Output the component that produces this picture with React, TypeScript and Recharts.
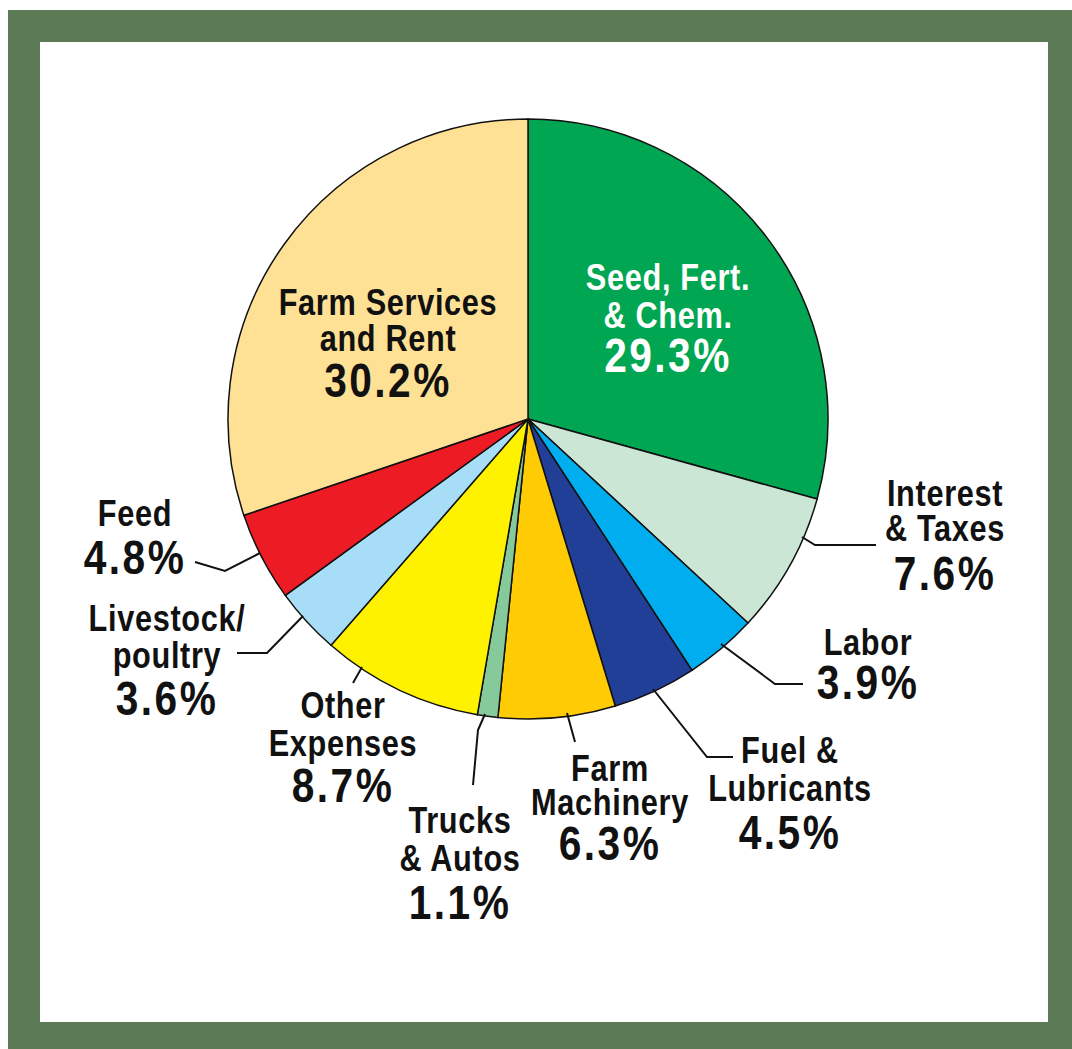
import { PieChart, Pie, Cell } from 'recharts'

const categories = [
  'Seed, Fert. & Chem.',
  'Interest & Taxes',
  'Labor',
  'Fuel & Lubricants',
  'Farm Machinery',
  'Trucks & Autos',
  'Other Expenses',
  'Livestock/poultry',
  'Feed',
  'Farm Services and Rent',
]

const shares = [29.3, 7.6, 3.9, 4.5, 6.3, 1.1, 8.7, 3.6, 4.8, 30.2]

// how each category name is broken over lines in its label
const labelLines = [
  ['Seed, Fert.', '& Chem.'],
  ['Interest', '& Taxes'],
  ['Labor'],
  ['Fuel &', 'Lubricants'],
  ['Farm', 'Machinery'],
  ['Trucks', '& Autos'],
  ['Other', 'Expenses'],
  ['Livestock/', 'poultry'],
  ['Feed'],
  ['Farm Services', 'and Rent'],
]

const COLORS = [
  '#00a651',
  '#cce6d5',
  '#00aeef',
  '#223f98',
  '#ffcb05',
  '#86c99a',
  '#fff200',
  '#a8ddf7',
  '#ed1c24',
  '#ffe196',
]

// label placement relative to the pie centre: leader points, text x, line centre ys
const LAYOUT = [
  { leader: [], x: 140, ys: [-142, -104, -64], fill: '#fff' },
  { leader: [[274, 118], [287, 126], [348, 126]], x: 417, ys: [74, 109, 154] },
  { leader: [[193, 225], [247, 265], [275, 265]], x: 340, ys: [223, 263] },
  { leader: [[125, 270], [179, 338], [205, 338]], x: 262, ys: [331, 369, 413] },
  { leader: [[39, 294], [47, 323]], x: 82, ys: [349, 383, 424] },
  { leader: [[-43, 295], [-50, 311], [-55, 366]], x: -68, ys: [401, 439, 483] },
  { leader: [[-166, 248], [-175, 264]], x: -185, ys: [286, 324, 366] },
  { leader: [[-225, 197], [-261, 234], [-291, 234]], x: -361, ys: [199, 236, 279] },
  { leader: [[-268, 134], [-303, 152], [-333, 143]], x: -393, ys: [94, 138] },
  { leader: [], x: -140, ys: [-117, -81, -39], fill: '#111' },
]

const data = categories.map((name, i) => ({ name, value: shares[i] }))

const FONT = '"Liberation Sans", Arial, sans-serif'
const SQUEEZE = 0.83

function NarrowText({ x, y, size, spacing, fill, children }: any) {
  return (
    <text
      transform={`translate(${x},${y}) scale(${SQUEEZE},1)`}
      x={0}
      y={0}
      textAnchor="middle"
      dominantBaseline="central"
      fill={fill}
      fontFamily={FONT}
      fontWeight="bold"
      fontSize={size}
      letterSpacing={spacing}
    >
      {children}
    </text>
  )
}

function renderLabel(props: any) {
  const { cx, cy, index } = props
  const lay = LAYOUT[index]
  const lines = labelLines[index]
  const fill = lay.fill || '#111'
  return (
    <g key={`lbl-${index}`}>
      {lay.leader.length > 1 && (
        <polyline
          points={lay.leader.map(([x, y]) => `${cx + x},${cy + y}`).join(' ')}
          fill="none"
          stroke="#111"
          strokeWidth={2}
        />
      )}
      {lines.map((t, k) => (
        <NarrowText key={k} x={cx + lay.x} y={cy + lay.ys[k]} size={37} spacing={0.8} fill={fill}>
          {t}
        </NarrowText>
      ))}
      <NarrowText x={cx + lay.x} y={cy + lay.ys[lines.length]} size={49} spacing={3} fill={fill}>
        {`${shares[index].toFixed(1)}%`}
      </NarrowText>
    </g>
  )
}

export default function App() {
  return (
    <div
      style={{
        position: 'absolute',
        left: 8,
        top: 10,
        width: 1064,
        height: 1039,
        background: '#5c7a55',
      }}
    >
      <div
        style={{
          position: 'absolute',
          left: 32,
          top: 32,
          width: 1008,
          height: 980,
          background: '#fff',
        }}
      >
        <PieChart width={1008} height={980} margin={{ top: 0, right: 0, bottom: 0, left: 0 }}>
          <Pie
            data={data}
            dataKey="value"
            nameKey="name"
            cx={488}
            cy={377}
            outerRadius={300}
            startAngle={90}
            endAngle={-270}
            stroke="#111"
            strokeWidth={1.5}
            label={renderLabel}
            labelLine={false}
            isAnimationActive={false}
          >
            {data.map((d, i) => (
              <Cell key={d.name} fill={COLORS[i]} />
            ))}
          </Pie>
        </PieChart>
      </div>
    </div>
  )
}
